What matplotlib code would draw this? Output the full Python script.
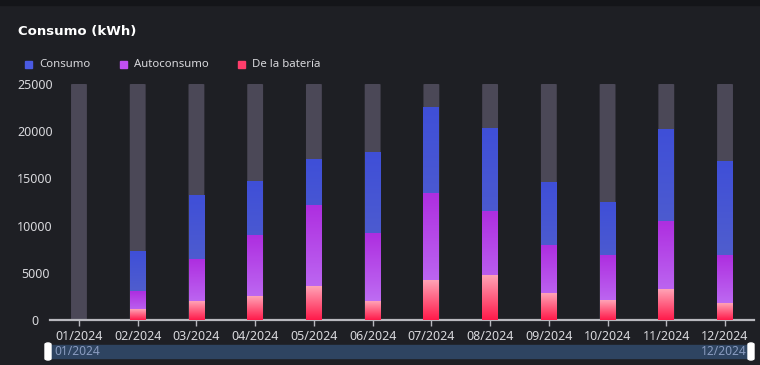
import numpy as np
import matplotlib
matplotlib.use("Agg")
import matplotlib.pyplot as plt
from matplotlib.colors import LinearSegmentedColormap
from matplotlib.patches import Rectangle, FancyBboxPatch

plt.rcParams['font.family'] = ['Noto Sans', 'DejaVu Sans']

# datos (kWh)
meses = ["01/2024", "02/2024", "03/2024", "04/2024", "05/2024", "06/2024",
         "07/2024", "08/2024", "09/2024", "10/2024", "11/2024", "12/2024"]
consumo = [0, 7300, 13200, 14700, 16950, 17700, 22550, 20250, 14600, 12500, 20150, 16750]
autoconsumo = [0, 3050, 6450, 9000, 12100, 9200, 13450, 11500, 7850, 6850, 10450, 6850]
bateria = [0, 1150, 2000, 2450, 3600, 2000, 4150, 4750, 2850, 2100, 3250, 1800]
maximo = 25000
yticks = [0, 5000, 10000, 15000, 20000, 25000]

fondo = "#1e1f24"
gris_barra = "#4b4857"
texto = "#d8d8dc"

cm_consumo = LinearSegmentedColormap.from_list("c", ["#5b68c6", "#3f4fd8"])
cm_auto = LinearSegmentedColormap.from_list("a", ["#c27ef8", "#ae2ee0"])
cm_bat = LinearSegmentedColormap.from_list("b", ["#ff1a4a", "#ffa3b6"])

fig = plt.figure(figsize=(7.6, 3.65), dpi=100, facecolor=fondo)
fig.patches.append(Rectangle((0, 1 - 5 / 365), 1, 5 / 365, transform=fig.transFigure,
                             color="#141519", zorder=0))

ax = fig.add_axes([49.6 / 760, 1 - 320 / 365, 704.8 / 760, 236 / 365])
ax.set_facecolor(fondo)

ancho = 0.27
grad = np.linspace(0, 1, 256).reshape(-1, 1)


def barra_gradiente(x, h, cmap, z):
    if h <= 0:
        return
    ax.imshow(grad, cmap=cmap, extent=(x - ancho / 2, x + ancho / 2, 0, h),
              origin="lower", aspect="auto", zorder=z, interpolation="bilinear")


for i in range(len(meses)):
    ax.add_patch(FancyBboxPatch((i - ancho / 2, 0), ancho, maximo,
                                boxstyle="round,pad=0,rounding_size=0.03",
                                mutation_aspect=1500, color=gris_barra, zorder=1, lw=0))
    barra_gradiente(i, consumo[i], cm_consumo, 2)
    barra_gradiente(i, autoconsumo[i], cm_auto, 3)
    barra_gradiente(i, bateria[i], cm_bat, 4)

ax.set_xlim(-0.5, len(meses) - 0.5)
ax.set_ylim(0, maximo)
ax.set_xticks(range(len(meses)))
ax.set_xticklabels(meses)
ax.set_yticks(yticks)
ax.set_yticklabels([str(v) for v in yticks])
for lab in ax.get_yticklabels():
    lab.set_horizontalalignment("center")
for s in ["top", "right", "left"]:
    ax.spines[s].set_visible(False)
ax.spines["bottom"].set_color("#b8b8be")
ax.spines["bottom"].set_linewidth(1.6)
ax.tick_params(axis="x", colors="#b8b8be", labelcolor=texto, length=4, width=1, pad=3, labelsize=9)
ax.tick_params(axis="y", length=0, labelcolor=texto, pad=10.5, labelsize=9)

# titulo
fig.text(18 / 760, 1 - 31 / 365, "Consumo (kWh)", color="white", fontsize=9.5,
         fontweight="bold", family="DejaVu Sans", va="center", ha="left")

# leyenda
leyenda = [("Consumo", "#4a5ae2", 25), ("Autoconsumo", "#c04ff2", 120), ("De la batería", "#ff3d6b", 238)]
for nombre, col, x in leyenda:
    fig.patches.append(Rectangle((x / 760, 1 - 68 / 365), 7 / 760, 7 / 365,
                                 transform=fig.transFigure, color=col))
    fig.text((x + 14) / 760, 1 - 64.5 / 365, nombre, color=texto, fontsize=8.2,
             va="center", ha="left")

# barra de desplazamiento
fig.patches.append(Rectangle((50 / 760, 1 - 358 / 365), 700 / 760, 13 / 365,
                             transform=fig.transFigure, color="#2e4461"))
for x in [45, 748]:
    fig.patches.append(FancyBboxPatch((x / 760, 1 - 360 / 365), 6 / 760, 17 / 365,
                                      boxstyle="round,pad=0,rounding_size=0.004",
                                      transform=fig.transFigure, color="white"))
fig.text(54 / 760, 1 - 351.5 / 365, meses[0], color="#8a9cc0", fontsize=8.6, va="center", ha="left")
fig.text(747 / 760, 1 - 351.5 / 365, meses[-1], color="#8a9cc0", fontsize=8.6, va="center", ha="right")

fig.savefig("out.png", dpi=100, facecolor=fondo)
